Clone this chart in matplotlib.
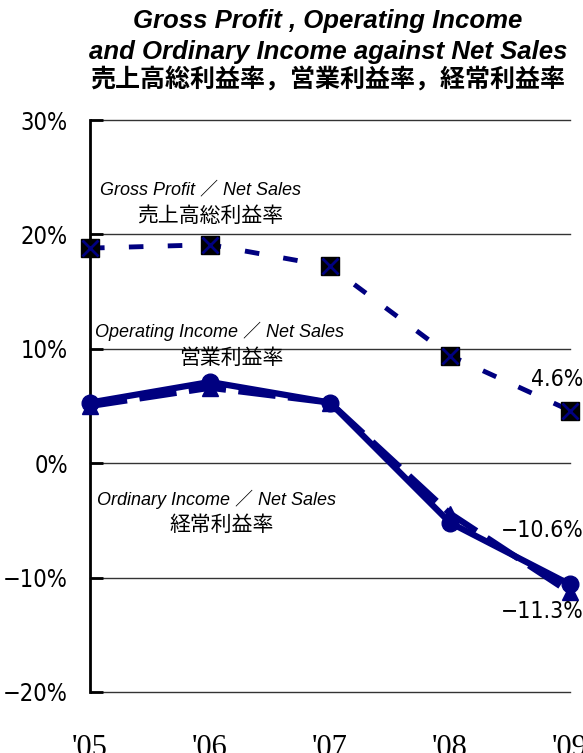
import matplotlib
matplotlib.use("Agg")
import matplotlib.pyplot as plt
from matplotlib.ticker import FuncFormatter

years = ["'05", "'06", "'07", "'08", "'09"]
gross = [18.8, 19.1, 17.2, 9.4, 4.6]
operating = [5.0, 6.6, 5.3, -4.4, -11.3]
ordinary = [5.3, 7.1, 5.3, -5.2, -10.6]
yticks = [-20, -10, 0, 10, 20, 30]

navy = "#000080"
num_font = ["DejaVu Sans"]
jp_font = ["Noto Sans CJK JP", "DejaVu Sans"]
en_italic = ["Liberation Sans", "Noto Sans CJK JP", "DejaVu Sans"]

fig = plt.figure(figsize=(5.83, 7.53), dpi=100)
ax = fig.add_axes([90/583, 1-692/753, 480/583, 572/753])

x = list(range(len(years)))

ax.plot(x, gross, color=navy, lw=3.5, ls=(0, (3, 5)), zorder=3, clip_on=False)
ax.plot(x, gross, ls="none", marker="s", ms=13, mfc="black", mec="black", zorder=4, clip_on=False)
ax.plot(x, gross, ls="none", marker="x", ms=11, mec=navy, mew=2, zorder=5, clip_on=False)

ax.plot(x, operating, color=navy, lw=4.5, ls=(0, (6, 2)), marker="^", ms=12,
        mfc=navy, mec=navy, zorder=3, clip_on=False)
ax.plot(x, ordinary, color=navy, lw=4.5, ls="-", marker="o", ms=12,
        mfc=navy, mec=navy, zorder=3, clip_on=False)

ax.set_xlim(0, 4)
ax.set_ylim(-20, 30)
ax.set_yticks(yticks)
ax.yaxis.set_major_formatter(FuncFormatter(lambda v, p: f"{v:.0f}%".replace("-", "\u2212")))
ax.set_xticks(x)
ax.set_xticklabels(years, family="Liberation Serif", fontsize=22)
for lab in ax.get_yticklabels():
    lab.set_family(num_font)
    lab.set_fontsize(17)
    lab.set_fontstretch("condensed")
ax.tick_params(axis="y", direction="in", length=9, width=2, pad=16)
ax.tick_params(axis="x", length=0, pad=30)

for s in ["top", "right", "bottom"]:
    ax.spines[s].set_visible(False)
ax.spines["left"].set_linewidth(2)
ax.grid(axis="y", color="#333333", lw=1)
for gl in ax.get_ygridlines():
    gl.set_clip_on(False)
ax.set_axisbelow(True)

# annotations
ax.text(0.08, 23.9, "Gross Profit \uff0f Net Sales", family=en_italic, style="italic",
        fontsize=13, ha="left", va="center")
ax.text(0.39, 21.6, "売上高総利益率", family=jp_font, fontsize=15, ha="left", va="center")
ax.text(0.04, 11.5, "Operating Income \uff0f Net Sales", family=en_italic, style="italic",
        fontsize=13, ha="left", va="center")
ax.text(1.18, 9.2, "営業利益率", family=jp_font, fontsize=15, ha="center", va="center")
ax.text(0.06, -3.15, "Ordinary Income \uff0f Net Sales", family=en_italic, style="italic",
        fontsize=13, ha="left", va="center")
ax.text(1.10, -5.4, "経常利益率", family=jp_font, fontsize=15, ha="center", va="center")

lab_kw = dict(family=num_font, fontsize=16.5, fontstretch="condensed", ha="right", va="center")
ax.text(4.11, 7.3, "4.6%", **lab_kw)
ax.text(4.11, -5.9, "\u221210.6%", **lab_kw)
ax.text(4.11, -13.0, "\u221211.3%", **lab_kw)

# title
fig.text(328/583, 1-21/753, "Gross Profit , Operating Income", family=en_italic,
         style="italic", weight="bold", fontsize=18.5, ha="center", va="center")
fig.text(328/583, 1-52/753, "and Ordinary Income against Net Sales", family=en_italic,
         style="italic", weight="bold", fontsize=18.5, ha="center", va="center")
fig.text(328/583, 1-80/753, "売上高総利益率，営業利益率，経常利益率", family=jp_font,
         weight="bold", fontsize=18, ha="center", va="center")

fig.savefig("out.png", dpi=100)
